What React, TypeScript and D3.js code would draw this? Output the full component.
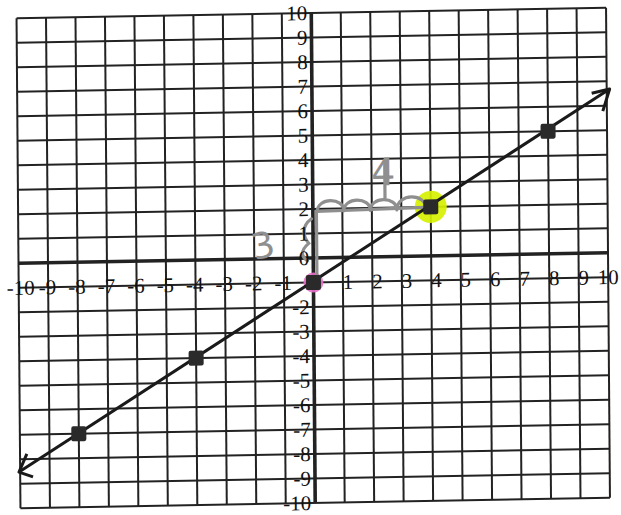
import React from "react";
import * as d3 from "d3";

const W = 621;
const H = 515;

// tick values / labels
const gridValues = [-10, -9, -8, -7, -6, -5, -4, -3, -2, -1, 0, 1, 2, 3, 4, 5, 6, 7, 8, 9, 10];
const xNegLabels = [-10, -9, -8, -7, -6, -5, -4, -3, -2, -1];
const xPosLabels = [1, 2, 3, 4, 5, 6, 7, 8, 9, 10];
const yLabels = [10, 9, 8, 7, 6, 5, 4, 3, 2, 1, 0, -2, -3, -4, -5, -6, -7, -8, -9, -10];

// plotted points
const pointX = [-8, -4, 0, 4, 8];
const pointY = [-7, -4, -1, 2, 5];

// drawn line ends (with arrows)
const lineX = [-10.04, 10.1];
const lineY = [-8.52, 6.68];

// highlighted points
const yellowPt = { x: 4, y: 2 };
const pinkPt = { x: 0, y: -1 };

// pencil annotations (in graph units)
const riseX = 0.12;
const riseY = [-1, 1.9];
const runY = 1.9;
const runX = [0.12, 3.8];
const bumpStarts = [0.15, 1.05, 1.95, 2.85];
const bumpEnds = [1.05, 1.95, 2.85, 3.85];
const label3 = { x: -1.7, y: 0.55, t: "3" };
const label4 = { x: 2.4, y: 3.45, t: "4" };

export default function App() {
  const x = d3.scaleLinear().domain([-10, 10]).range([18.5, 608]);
  const y = d3.scaleLinear().domain([10, -10]).range([13, 503]);

  const b = -0.018;
  const c = 0.008;
  const cx = x(0);
  const cy = y(0);
  const tf = `matrix(1, ${b}, ${c}, 1, ${-c * cy}, ${-b * cx})`;

  const line = d3
    .line<number>()
    .x((_, i) => x(lineX[i]))
    .y((_, i) => y(lineY[i]));

  const lx0 = x(lineX[0]);
  const ly0 = y(lineY[0]);
  const lx1 = x(lineX[1]);
  const ly1 = y(lineY[1]);

  const bumps = bumpStarts
    .map((s, i) => {
      const x0 = x(s);
      const x1 = x(bumpEnds[i]);
      const yy = y(runY);
      const h = i === 3 ? 17 : 14;
      return `M${x0},${yy} C${x0},${yy - h} ${x1},${yy - h} ${x1},${yy}`;
    })
    .join(" ");

  const font = "'Liberation Serif', 'DejaVu Serif', serif";
  const pencil = "#8f8f8f";

  return (
    <svg width={W} height={H} style={{ position: "absolute", left: 0, top: 0, background: "#fff" }}>
      <rect width={W} height={H} fill="#fff" />
      <g transform={tf}>
        {/* grid */}
        {gridValues.map((v) => (
          <line key={"v" + v} x1={x(v)} x2={x(v)} y1={y(10)} y2={y(-10)} stroke="#222" strokeWidth={v === 0 ? 3.6 : 2} />
        ))}
        {gridValues.map((v) => (
          <line key={"h" + v} x1={x(-10)} x2={x(10)} y1={y(v)} y2={y(v)} stroke="#222" strokeWidth={v === 0 ? 3.6 : 2} />
        ))}

        {/* highlights */}
        <circle cx={x(yellowPt.x)} cy={y(yellowPt.y)} r={16} fill="#d6f000" opacity={0.92} />
        <circle cx={x(pinkPt.x)} cy={y(pinkPt.y)} r={10} fill="#e86fc8" opacity={0.9} />

        {/* pencil annotations */}
        <g stroke={pencil} strokeWidth={3.2} fill="none" strokeLinecap="round">
          <line x1={x(riseX)} x2={x(riseX)} y1={y(riseY[0])} y2={y(riseY[1])} />
          <line x1={x(runX[0])} x2={x(runX[1])} y1={y(runY)} y2={y(runY) - 2} />
          <path d={bumps} />
          <path d={`M${x(2.45)},${y(runY) - 12} L${x(2.45)},${y(3.9)}`} />
          <path d={`M${x(-0.05)},${y(1.6)} C${x(-0.4)},${y(1.3)} ${x(-0.35)},${y(0.9)} ${x(-0.15)},${y(0.6)} C${x(-0.45)},${y(0.3)} ${x(-0.4)},${y(0.05)} ${x(-0.2)},${y(-0.1)}`} />
        </g>
        <text x={x(label3.x)} y={y(label3.y)} fontSize={36} fill={pencil} fontFamily="'DejaVu Sans', sans-serif" textAnchor="middle" dominantBaseline="central" transform={`rotate(-12 ${x(label3.x)} ${y(label3.y)})`}>{label3.t}</text>
        <text x={x(label4.x)} y={y(label4.y)} fontSize={38} fill={pencil} fontFamily="'DejaVu Sans', sans-serif" textAnchor="middle" dominantBaseline="central">{label4.t}</text>

        {/* line with arrows */}
        <path d={line([0, 1]) || ""} stroke="#1a1a1a" strokeWidth={3} fill="none" />
        <path d={`M${lx1 - 18},${ly1 + 4} L${lx1},${ly1} L${lx1 - 7},${ly1 + 22}`} stroke="#1a1a1a" strokeWidth={3} fill="none" strokeLinejoin="round" />
        <path d={`M${lx0 + 8},${ly0 - 18} L${lx0},${ly0} L${lx0 + 14},${ly0 + 5}`} stroke="#1a1a1a" strokeWidth={3} fill="none" strokeLinejoin="round" />

        {/* points */}
        {pointX.map((px, i) => (
          <rect key={i} x={x(px) - 7.5} y={y(pointY[i]) - 7.5} width={15} height={15} rx={2} fill="#2a2a2a" />
        ))}

        {/* labels */}
        <g fontFamily={font} fontSize={21} fill="#111" dominantBaseline="central">
          {yLabels.map((v) => (
            <text key={"yl" + v} x={x(0) - 4} y={y(v)} textAnchor="end">{v}</text>
          ))}
          {xNegLabels.map((v) => (
            <text key={"xn" + v} x={x(v) + (v === -10 ? 16 : 8)} y={y(-1)} textAnchor="end">{v}</text>
          ))}
          {xPosLabels.map((v) => (
            <text key={"xp" + v} x={x(v) + (v === 10 ? 0 : 5)} y={y(-1)} textAnchor="middle">{v}</text>
          ))}
        </g>
      </g>
    </svg>
  );
}
